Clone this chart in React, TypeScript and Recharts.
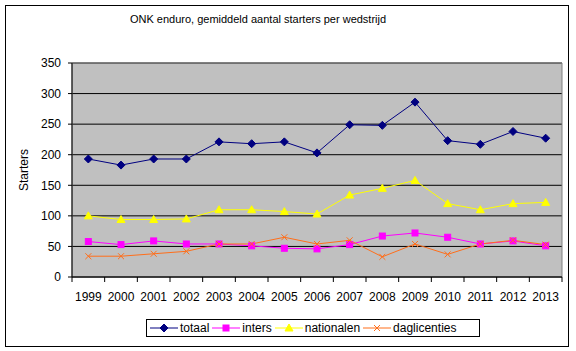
import React from 'react';
import {
  LineChart,
  Line,
  XAxis,
  YAxis,
  CartesianGrid,
  ReferenceArea,
} from 'recharts';

const years = [1999, 2000, 2001, 2002, 2003, 2004, 2005, 2006, 2007, 2008, 2009, 2010, 2011, 2012, 2013];
const totaal = [193, 183, 193, 193, 221, 218, 221, 203, 249, 248, 286, 223, 217, 238, 227];
const inters = [58, 53, 59, 54, 54, 51, 47, 46, 53, 67, 72, 65, 54, 59, 51];
const nationalen = [100, 94, 94, 95, 110, 110, 107, 103, 134, 145, 158, 120, 110, 120, 122];
const daglicenties = [34, 34, 38, 42, 54, 54, 65, 54, 60, 33, 54, 37, 54, 60, 53];
const yTicks = [0, 50, 100, 150, 200, 250, 300, 350];

const data = years.map((year, i) => ({
  year,
  totaal: totaal[i],
  inters: inters[i],
  nationalen: nationalen[i],
  daglicenties: daglicenties[i],
}));

const FONT = 'Arial, "Liberation Sans", sans-serif';
const NAVY = '#000080';
const MAGENTA = '#FF00FF';
const YELLOW = '#FFFF00';
const ORANGE = '#FF6E1A';
const HALF_STEP = 490 / 15 / 2;

const Diamond = ({ cx, cy }: any) => (
  <path d={`M${cx},${cy - 4}L${cx + 4},${cy}L${cx},${cy + 4}L${cx - 4},${cy}Z`} fill={NAVY} stroke={NAVY} />
);
const Square = ({ cx, cy }: any) => (
  <rect x={cx - 3} y={cy - 3} width={6} height={6} fill={MAGENTA} stroke={MAGENTA} />
);
const Triangle = ({ cx, cy }: any) => (
  <path d={`M${cx},${cy - 4}L${cx + 4},${cy + 3}L${cx - 4},${cy + 3}Z`} fill={YELLOW} stroke={YELLOW} />
);
const Cross = ({ cx, cy }: any) => (
  <path d={`M${cx - 3},${cy - 3}L${cx + 3},${cy + 3}M${cx + 3},${cy - 3}L${cx - 3},${cy + 3}`} stroke={ORANGE} fill="none" />
);

const YearTick = ({ x, y, payload, index }: any) => (
  <g>
    <line x1={x - HALF_STEP} y1={y} x2={x - HALF_STEP} y2={y + 5} stroke="#000" />
    {index === years.length - 1 && (
      <line x1={x + HALF_STEP} y1={y} x2={x + HALF_STEP} y2={y + 5} stroke="#000" />
    )}
    <text x={x} y={y + 24} textAnchor="middle" fontSize={12} fontFamily={FONT} fill="#000">
      {payload.value}
    </text>
  </g>
);

const legendItems = [
  { name: 'totaal', color: NAVY, marker: 'diamond' },
  { name: 'inters', color: MAGENTA, marker: 'square' },
  { name: 'nationalen', color: YELLOW, marker: 'triangle' },
  { name: 'daglicenties', color: ORANGE, marker: 'cross' },
];

const LegendMarker = ({ color, marker }: { color: string; marker: string }) => (
  <svg width={28} height={10} style={{ display: 'block' }}>
    <line x1={0} y1={5} x2={28} y2={5} stroke={color} />
    {marker === 'diamond' && <Diamond cx={14} cy={5} />}
    {marker === 'square' && <Square cx={14} cy={5} />}
    {marker === 'triangle' && <Triangle cx={14} cy={5} />}
    {marker === 'cross' && <Cross cx={14} cy={5} />}
  </svg>
);

export default function App() {
  return (
    <div style={{ position: 'absolute', left: 0, top: 0, width: 576, height: 351, background: '#fff', fontFamily: FONT }}>
      <div style={{ position: 'absolute', left: 5, top: 5, width: 562, height: 340, border: '1px solid #000' }} />
      <div style={{ position: 'absolute', left: 0, width: 516, top: 13, textAlign: 'center', fontSize: 11, color: '#000' }}>
        ONK enduro, gemiddeld aantal starters per wedstrijd
      </div>
      <LineChart
        width={576}
        height={351}
        data={data}
        margin={{ top: 63, right: 14, left: 0, bottom: 44 }}
        style={{ position: 'absolute', left: 0, top: 0 }}
      >
        <CartesianGrid vertical={false} stroke="#000" fill="#C0C0C0" fillOpacity={1} />
        <ReferenceArea x1={1998.5} x2={2013.5} y1={0} y2={350} fill="none" stroke="#808080" strokeWidth={1} ifOverflow="visible" />
        <XAxis
          dataKey="year"
          type="number"
          domain={[1998.5, 2013.5]}
          ticks={years}
          interval={0}
          height={30}
          stroke="#000"
          tickLine={false}
          tickSize={0}
          tickMargin={0}
          tick={<YearTick />}
        />
        <YAxis
          width={72}
          domain={[0, 350]}
          ticks={yTicks}
          interval={0}
          stroke="#000"
          tickSize={4}
          tickMargin={7}
          tick={{ fill: '#000', fontSize: 12, fontFamily: FONT }}
          label={{
            content: ({ viewBox }: any) => (
              <text
                x={0}
                y={0}
                transform={`translate(28, ${viewBox.y + viewBox.height / 2}) rotate(-90)`}
                textAnchor="middle"
                fontSize={12}
                fontFamily={FONT}
                fill="#000"
              >
                Starters
              </text>
            ),
          }}
        />
        <Line dataKey="totaal" stroke={NAVY} strokeWidth={1} dot={<Diamond />} isAnimationActive={false} />
        <Line dataKey="inters" stroke={MAGENTA} strokeWidth={1} dot={<Square />} isAnimationActive={false} />
        <Line dataKey="nationalen" stroke={YELLOW} strokeWidth={1} dot={<Triangle />} isAnimationActive={false} />
        <Line dataKey="daglicenties" stroke={ORANGE} strokeWidth={1} dot={<Cross />} isAnimationActive={false} />
      </LineChart>
      <div
        style={{
          position: 'absolute',
          left: 146,
          top: 319,
          width: 334,
          height: 18,
          border: '1px solid #000',
          display: 'flex',
          alignItems: 'center',
          fontSize: 12,
          color: '#000',
          boxSizing: 'border-box',
          paddingLeft: 3,
        }}
      >
        {legendItems.map((item) => (
          <div key={item.name} style={{ display: 'flex', alignItems: 'center', marginRight: 3 }}>
            <LegendMarker color={item.color} marker={item.marker} />
            <span style={{ marginLeft: 2 }}>{item.name}</span>
          </div>
        ))}
      </div>
    </div>
  );
}
